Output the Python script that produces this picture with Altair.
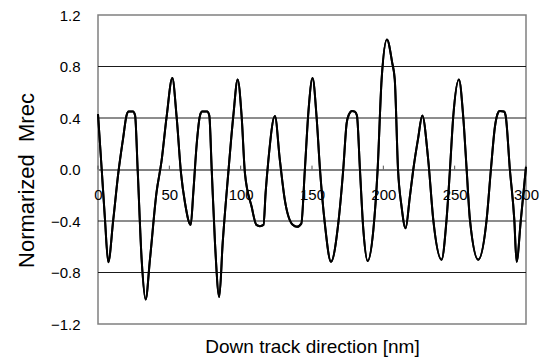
import altair as alt
import pandas as pd

# Waveform samples (position in nm, normalized Mrec)
pos_nm = [0, 2.6, 4.9, 7.2, 10.7, 14.2, 17.7, 20, 21.5, 24.5, 26, 27.8, 30.6, 33.4,
          36.4, 41, 44.6, 48.1, 52.1, 55.1, 58.2, 61, 65, 66.8, 69.2, 71.5, 73, 76.5,
          78, 79.7, 82, 85, 87.4, 91.3, 94.8, 97.9, 100.7, 103, 107.7, 111, 113.5, 116,
          117.5, 119.4, 124, 127.5, 131, 136.5, 139.5, 142.5, 145, 147.5, 150.4, 153.2,
          155.6, 159, 163.3, 168.4, 171.9, 174.3, 176, 178, 180, 181.5, 183.6, 186, 189,
          193, 196, 198.8, 202.5, 206.2, 208, 210.3, 212.8, 215.6, 218.6, 221, 224.5,
          227.3, 231.5, 235, 240.8, 244.3, 246.7, 249, 253, 256, 258.4, 260.7, 266.5,
          272.4, 275.4, 278.2, 280, 281.5, 284.5, 285.7, 288.7, 291.8, 293.4, 296.4, 300]
mrec = [0.43, 0, -0.39, -0.72, -0.39, -0.03, 0.25, 0.42, 0.45, 0.45, 0.42, 0, -0.70, -1.01,
        -0.70, -0.18, 0.07, 0.41, 0.71, 0.41, -0.03, -0.26, -0.43, -0.18, 0.2, 0.42, 0.45, 0.45,
        0.42, 0, -0.57, -0.99, -0.57, -0.03, 0.41, 0.70, 0.41, -0.03, -0.29, -0.43, -0.44, -0.43,
        -0.18, 0.07, 0.415, 0.07, -0.24, -0.43, -0.445, -0.42, 0, 0.45, 0.71, 0.41,
        0, -0.42, -0.716, -0.42, 0, 0.36, 0.43, 0.455, 0.45, 0.42, 0, -0.47, -0.71,
        -0.47, 0, 0.70, 1.01, 0.83, 0.70, 0, -0.29, -0.457, -0.21, 0, 0.25,
        0.42, 0.07, -0.39, -0.70, -0.39, 0, 0.41, 0.70, 0.41, 0, -0.39, -0.70,
        -0.39, 0, 0.33, 0.43, 0.455, 0.45, 0.42, 0, -0.39, -0.716, -0.39, 0.02]

x_ticks = [0, 50, 100, 150, 200, 250, 300]
y_ticks = [-1.2, -0.8, -0.4, 0.0, 0.4, 0.8, 1.2]
grid_lines = [-0.8, -0.4, 0.4, 0.8]

df = pd.DataFrame({"x": pos_nm, "y": mrec})
grid_df = pd.DataFrame({"y": grid_lines})
tick_df = pd.DataFrame({"x": x_ticks, "y": [0.0] * len(x_ticks), "y1": [0.03] * len(x_ticks)})

FONT = "Liberation Sans"
W, H = 428, 309

xscale = alt.Scale(domain=[0, 300], nice=False, zero=False)
yscale = alt.Scale(domain=[-1.2, 1.2], nice=False, zero=False)

x_axis = alt.Axis(
    title="Down track direction [nm]",
    values=x_ticks,
    grid=False,
    ticks=False,
    domain=True,
    domainColor="#808080",
    domainWidth=2,
    offset=-H / 2,
    labelPadding=18,
    labelFont=FONT,
    labelFontSize=15,
    labelColor="black",
    labelFlush=False,
    labelOverlap=False,
    titleFont=FONT,
    titleFontSize=19,
    titleFontWeight="normal",
    titleColor="black",
    titleBaseline="alphabetic",
    titleY=183,
)
y_axis = alt.Axis(
    title="Normarized\u00a0\u00a0Mrec",
    values=y_ticks,
    format=".1f",
    grid=False,
    ticks=False,
    domain=False,
    labelPadding=18,
    labelFont=FONT,
    labelFontSize=15,
    labelColor="black",
    labelFlush=False,
    labelOverlap=False,
    titleFont=FONT,
    titleFontSize=22,
    titleFontWeight="normal",
    titleColor="black",
    titleAngle=-90,
    titleBaseline="alphabetic",
    titleAlign="center",
    titleX=-65,
    titleY=165,
)

line = alt.Chart(df).mark_line(color="black", strokeWidth=2, interpolate="monotone").encode(
    x=alt.X("x:Q", scale=xscale, axis=x_axis),
    y=alt.Y("y:Q", scale=yscale, axis=y_axis),
)

grid = alt.Chart(grid_df).mark_rule(color="#1a1a1a", strokeWidth=1).encode(
    y=alt.Y("y:Q", scale=yscale, axis=y_axis)
)

ticks = alt.Chart(tick_df).mark_rule(color="#555555", strokeWidth=1).encode(
    x=alt.X("x:Q", scale=xscale, axis=x_axis),
    y=alt.Y("y:Q", scale=yscale, axis=y_axis),
    y2="y1:Q",
)

chart = (
    alt.layer(line, grid, ticks, line)
    .properties(
        width=W,
        height=H,
        autosize=alt.AutoSizeParams(type="none"),
        padding={"left": 90, "top": 7, "right": 15, "bottom": 36},
        background="white",
    )
    .configure_view(stroke="#808080", strokeWidth=1.5)
)

chart.save("out.html", embed_options={"renderer": "svg", "actions": False})
